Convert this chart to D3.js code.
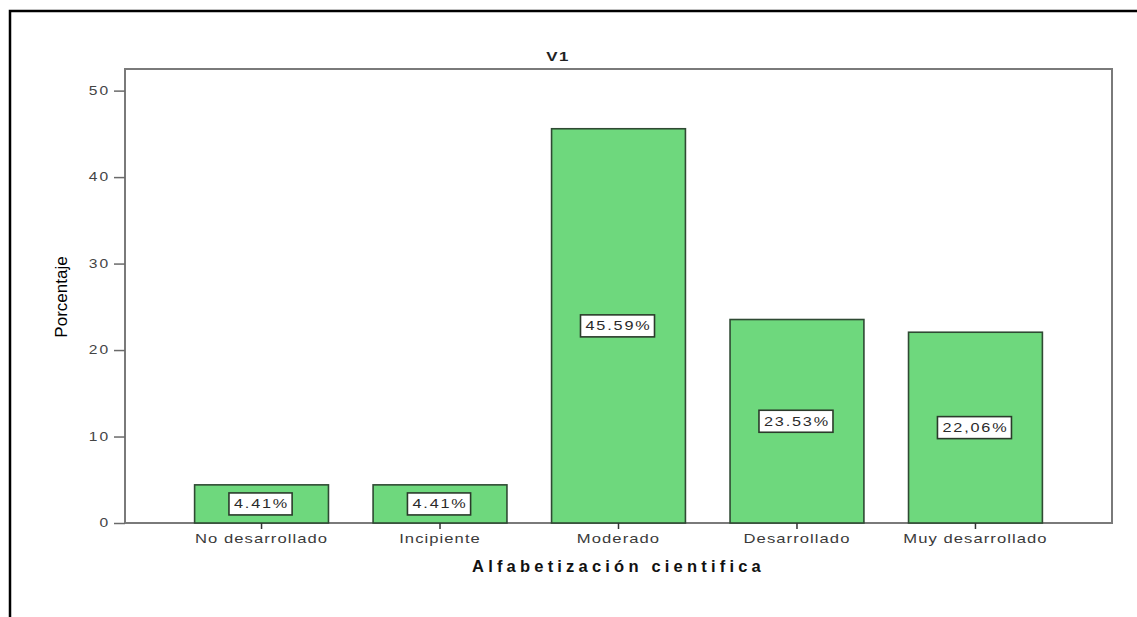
<!DOCTYPE html>
<html>
<head>
<meta charset="utf-8">
<script src="https://cdn.jsdelivr.net/npm/d3@7"></script>
<style>
  html, body { margin: 0; padding: 0; background: #fff; }
  svg { display: block; }
</style>
</head>
<body>
<svg id="chart" width="1137" height="617"></svg>
<script>
// Percentage of respondents per level of scientific literacy
const categories = ["No desarrollado", "Incipiente", "Moderado", "Desarrollado", "Muy desarrollado"];
const percentages = [4.41, 4.41, 45.59, 23.53, 22.06];
const valueLabels = ["4.41%", "4.41%", "45.59%", "23.53%", "22,06%"];
const yTicks = [0, 10, 20, 30, 40, 50];

const FONT = "'Liberation Sans', Arial, sans-serif";
const svg = d3.select("#chart");
const plot = { left: 125, right: 1112, top: 69, bottom: 523 };

// widen glyphs horizontally, keeping the anchor point in place
function widen(sel, s) {
  sel.each(function () {
    const t = d3.select(this);
    const x0 = +t.attr("x") || 0;
    t.attr("x", x0 / s).attr("transform", `scale(${s},1)`);
  });
}

// outer frame (top and left edges)
svg.append("path")
  .attr("d", "M10,617 L10,11 L1137,11")
  .attr("fill", "none")
  .attr("stroke", "#000")
  .attr("stroke-width", 2.5);

const x = d3.scaleBand()
  .domain(categories)
  .range([plot.left, plot.right])
  .paddingInner(0.25)
  .paddingOuter(0.39);

const y = d3.scaleLinear()
  .domain([0, 52.5])
  .range([plot.bottom, plot.top]);

// plot frame
svg.append("rect")
  .attr("x", plot.left)
  .attr("y", plot.top)
  .attr("width", plot.right - plot.left)
  .attr("height", plot.bottom - plot.top)
  .attr("fill", "none")
  .attr("stroke", "#7a7a7a")
  .attr("stroke-width", 2);

// bars
svg.append("g").selectAll("rect")
  .data(categories)
  .join("rect")
  .attr("x", d => x(d))
  .attr("y", (d, i) => y(percentages[i]))
  .attr("width", x.bandwidth())
  .attr("height", (d, i) => y(0) - y(percentages[i]))
  .attr("fill", "#6ed87d")
  .attr("stroke", "#2f4a33")
  .attr("stroke-width", 1.6);

// y axis
const yAxis = svg.append("g")
  .attr("transform", `translate(${plot.left},0)`)
  .call(d3.axisLeft(y).tickValues(yTicks).tickSize(11).tickPadding(4).tickFormat(d3.format("d")));
yAxis.select(".domain").remove();
yAxis.selectAll(".tick line").attr("stroke", "#6a6a6a").attr("stroke-width", 1.5);
yAxis.selectAll(".tick text")
  .attr("fill", "#444")
  .style("font-family", FONT)
  .style("font-size", "12px")
  .style("letter-spacing", "1.5px")
  .call(widen, 1.3);

// x axis
const xAxis = svg.append("g")
  .attr("transform", `translate(0,${plot.bottom})`)
  .call(d3.axisBottom(x).tickSize(6).tickPadding(5));
xAxis.select(".domain").remove();
xAxis.selectAll(".tick line").attr("stroke", "#333").attr("stroke-width", 1.5);
xAxis.selectAll(".tick text")
  .attr("fill", "#3a3a3a")
  .style("font-family", FONT)
  .style("font-size", "12.5px")
  .style("letter-spacing", "0.8px")
  .call(widen, 1.33);

// value labels in boxes at bar mid-height
const labels = svg.append("g").selectAll("g")
  .data(categories)
  .join("g")
  .attr("transform", (d, i) => `translate(${x(d) + x.bandwidth() / 2},${(y(percentages[i]) + y(0)) / 2})`);

labels.append("text")
  .text((d, i) => valueLabels[i])
  .attr("text-anchor", "middle")
  .attr("dy", "0.36em")
  .attr("fill", "#2a2a2a")
  .style("font-family", FONT)
  .style("font-size", "12.5px")
  .style("letter-spacing", "1.4px")
  .call(widen, 1.3);

labels.each(function () {
  const g = d3.select(this);
  const bb = g.select("text").node().getBBox();
  const s = 1.3;
  g.insert("rect", "text")
    .attr("x", bb.x * s - 5)
    .attr("y", -11)
    .attr("width", bb.width * s + 8)
    .attr("height", 22)
    .attr("fill", "#fff")
    .attr("stroke", "#2b3b2b")
    .attr("stroke-width", 1.6);
});

// chart title
svg.append("text")
  .attr("x", 558)
  .attr("y", 61)
  .attr("text-anchor", "middle")
  .attr("fill", "#222")
  .style("font-family", FONT)
  .style("font-size", "13px")
  .style("font-weight", "bold")
  .style("letter-spacing", "1px")
  .text("V1")
  .call(widen, 1.3);

// x axis title
svg.append("text")
  .attr("x", (plot.left + plot.right) / 2)
  .attr("y", 572)
  .attr("text-anchor", "middle")
  .attr("fill", "#111")
  .style("font-family", FONT)
  .style("font-size", "16.5px")
  .style("font-weight", "bold")
  .style("letter-spacing", "4.2px")
  .text("Alfabetización cientifica");

// y axis title
svg.append("text")
  .attr("transform", "translate(67,297) rotate(-90)")
  .attr("text-anchor", "middle")
  .attr("fill", "#000")
  .style("font-family", FONT)
  .style("font-size", "17px")
  .text("Porcentaje");
</script>
</body>
</html>
